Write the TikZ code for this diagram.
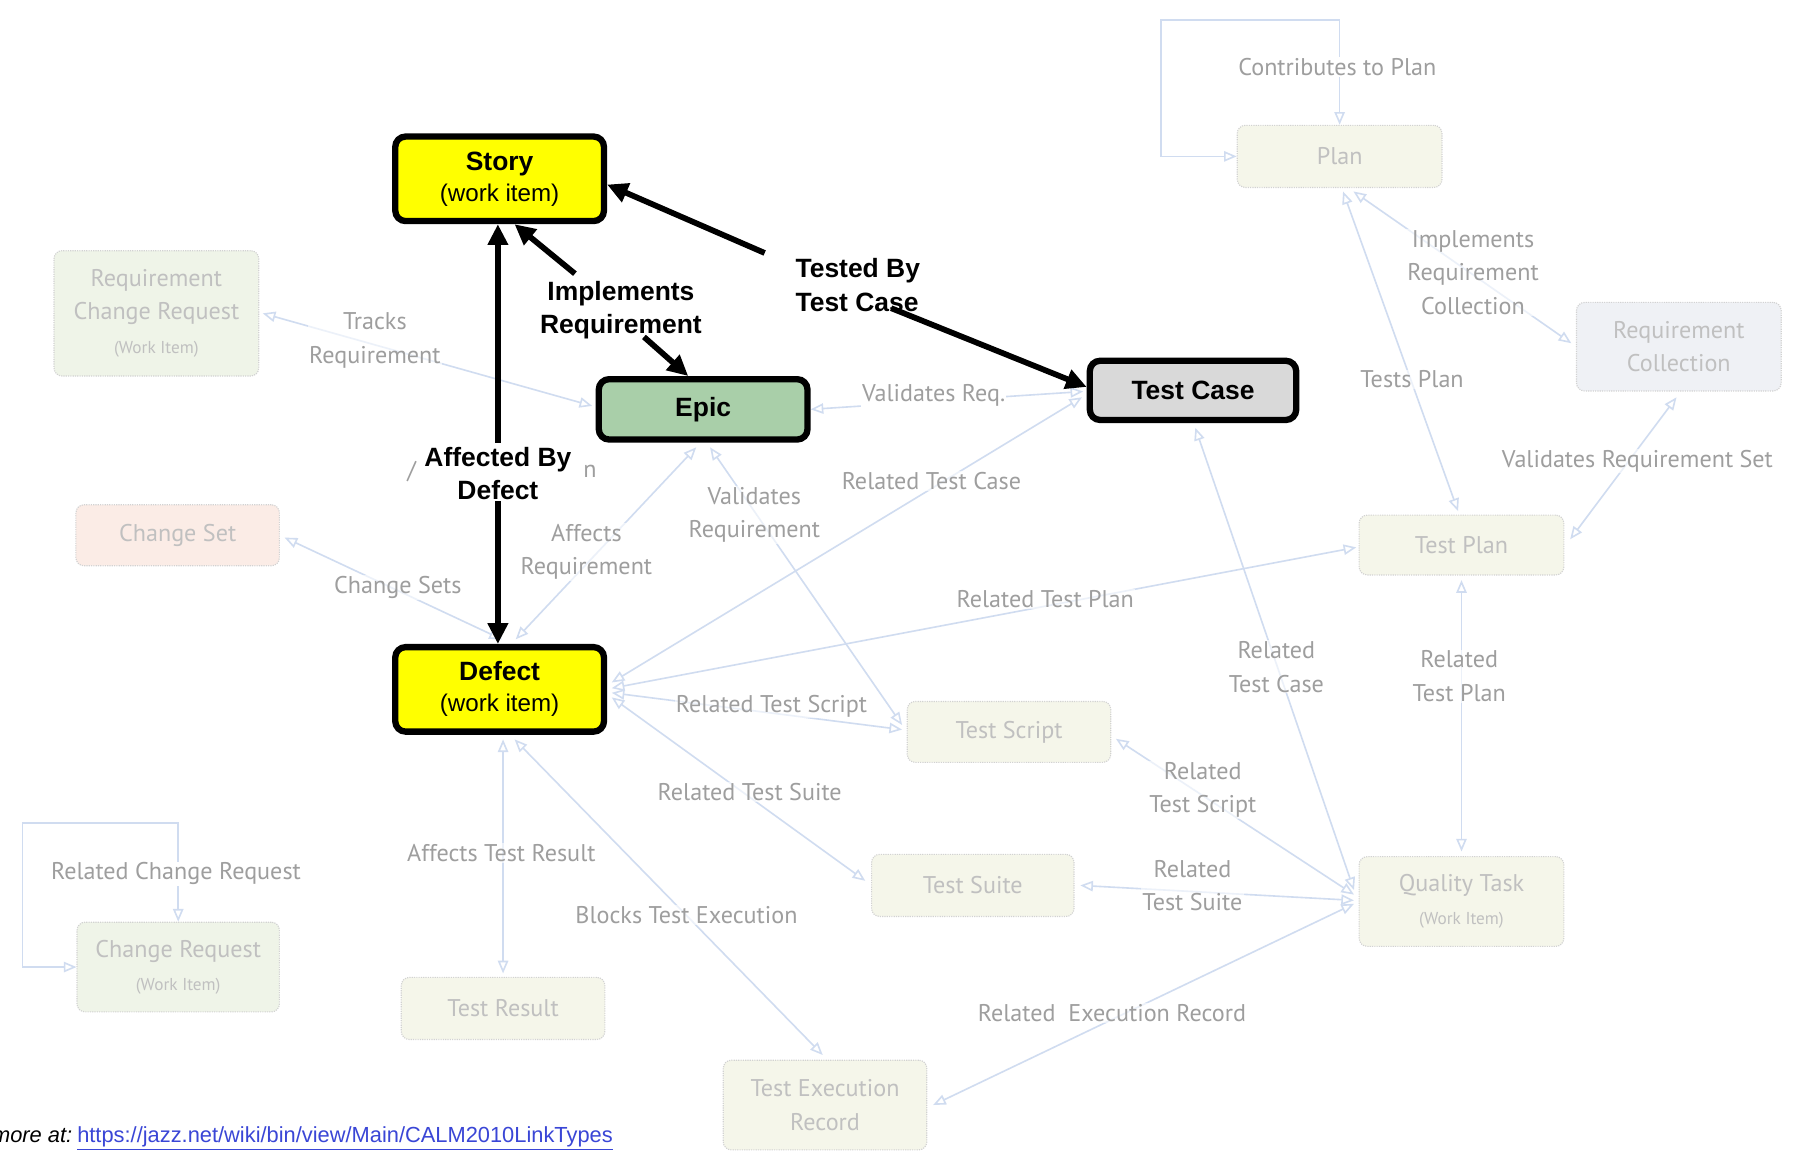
\documentclass[tikz,border=0pt]{standalone}
\usepackage{fontspec}
\setmainfont{Liberation Sans}
\newfontfamily\ghostfam{PT Sans}
\usetikzlibrary{arrows.meta,calc}
\definecolor{ghostline}{HTML}{D0DCF0}
\definecolor{ghostborder}{HTML}{D2D2D2}
\definecolor{ghosttext}{HTML}{C0C0C0}
\definecolor{labeltext}{HTML}{9E9E9E}
\definecolor{fillyg}{HTML}{F5F6EA}
\definecolor{fillg}{HTML}{EFF4E8}
\definecolor{fillpink}{HTML}{FBECE6}
\definecolor{fillblue}{HTML}{EFF1F5}
\definecolor{storyyellow}{HTML}{FFFF00}
\definecolor{epicgreen}{HTML}{A9CFA9}
\definecolor{casegrey}{HTML}{D9D9D9}
\definecolor{urlblue}{HTML}{3A46D6}
\pgfdeclarelayer{bg}
\pgfdeclarelayer{paper}
\pgfsetlayers{paper,bg,main}
\begin{document}
\begin{tikzpicture}[x=1pt,y=-1pt,
  mainbox/.style={draw=black, line width=5.5pt, rounded corners=9pt, align=center, inner sep=0pt,
    font=\fontsize{23}{27}\selectfont\bfseries},
  ghostbox/.style={draw=ghostborder, densely dotted, line width=1pt, rounded corners=7pt, align=center,
    inner sep=0pt, text=ghosttext, font=\ghostfam\fontsize{21}{29}\selectfont},
  glabel/.style={text=labeltext, align=center, inner sep=1pt, fill=white, fill opacity=0.6, text opacity=1,
    font=\ghostfam\fontsize{21}{29}\selectfont},
  blabel/.style={align=center, inner sep=1pt, fill=white, font=\fontsize{23}{29}\selectfont\bfseries},
  lnk/.style={draw=ghostline, line width=1.4pt, <->, >={Triangle[open,length=11pt,width=9pt]}},
  thickarrow/.style={line width=5pt, -{Triangle[length=18pt,width=17pt]}},
]
\begin{pgfonlayer}{paper}
\fill[white] (0,0) rectangle (1568,1001);
\end{pgfonlayer}
\useasboundingbox (0,0) rectangle (1568,1001);

% ---------- faint nodes ----------
\node[ghostbox, fill=fillg, minimum width=178pt, minimum height=109pt] (rcr) at (136,272.5)
  {Requirement\\Change Request\\{\fontsize{15}{29}\selectfont (Work Item)}};
\node[ghostbox, fill=fillpink, minimum width=177pt, minimum height=53pt] (changeset) at (154.5,465.5) {Change Set};
\node[ghostbox, fill=fillg, minimum width=176pt, minimum height=78pt] (cr) at (155,841)
  {Change Request\\{\fontsize{15}{29}\selectfont (Work Item)}};
\node[ghostbox, fill=fillyg, minimum width=177pt, minimum height=54pt] (testresult) at (437.5,877) {Test Result};
\node[ghostbox, fill=fillyg, minimum width=177pt, minimum height=78pt] (ter) at (717.5,961) {Test Execution\\Record};
\node[ghostbox, fill=fillyg, minimum width=177pt, minimum height=53pt] (testscript) at (877.5,636.5) {Test Script};
\node[ghostbox, fill=fillyg, minimum width=176pt, minimum height=54pt] (testsuite) at (846,770) {Test Suite};
\node[ghostbox, fill=fillyg, minimum width=178pt, minimum height=78pt] (qt) at (1271,784)
  {Quality Task\\{\fontsize{15}{29}\selectfont (Work Item)}};
\node[ghostbox, fill=fillyg, minimum width=178pt, minimum height=52pt] (testplan) at (1271,474) {Test Plan};
\node[ghostbox, fill=fillyg, minimum width=178pt, minimum height=54pt] (plan) at (1165,136) {Plan};
\node[ghostbox, fill=fillblue, minimum width=178pt, minimum height=77pt] (rc) at (1460,301.5) {Requirement\\Collection};

% ---------- main nodes ----------
\node[mainbox, fill=storyyellow, minimum width=181.5pt, minimum height=73.5pt] (story) at (434.5,155.5)
  {Story\\{\mdseries\fontsize{21}{27}\selectfont (work item)}};
\node[mainbox, fill=epicgreen, minimum width=181.5pt, minimum height=52.5pt] (epic) at (611.5,356) {Epic};
\node[mainbox, fill=casegrey, minimum width=179.5pt, minimum height=51.5pt] (testcase) at (1037.5,339.5) {Test Case};
\node[mainbox, fill=storyyellow, minimum width=181.5pt, minimum height=73.5pt] (defect) at (434.5,599.5)
  {Defect\\{\mdseries\fontsize{21}{27}\selectfont (work item)}};

% ---------- faint connectors ----------
\begin{pgfonlayer}{bg}
\draw[lnk] (plan.west) -- ++(-66,0) |- ($(plan.north)+(0,-91)$) -- (plan.north);
\draw[lnk] (cr.west) -- ++(-47,0) |- ($(cr.north)+(0,-86)$) -- (cr.north);
\draw[lnk] ($(epic.west)+(-3,-3)$) -- ($(rcr.east)+(3,0)$);
\draw[lnk] ($(defect.north)+(2,-4)$) -- ($(changeset.east)+(4,2)$);
\draw[lnk] ($(defect.north)+(14,-4)$) -- ($(epic.south)+(-6,4)$);
\draw[lnk] ($(epic.south)+(6,4)$) -- ($(testscript.west)+(-4,-6)$);
\draw[lnk] (epic.east) -- ($(testcase.west)+(-3,1)$);
\draw[lnk] ($(defect.east)+(4,-6)$) -- ($(testcase.west)+(-4,6)$);
\draw[lnk] ($(defect.east)+(4,-1)$) -- ($(testplan.west)+(-2,2)$);
\draw[lnk] ($(defect.east)+(4,3)$) -- ($(testscript.west)+(-4,-2)$);
\draw[lnk] ($(defect.east)+(4,7)$) -- ($(testsuite.west)+(-5,-4)$);
\draw[lnk] ($(defect.south)+(3,4)$) -- ($(testresult.north)+(0,-3)$);
\draw[lnk] ($(defect.south)+(13,4)$) -- ($(ter.north)+(-2,-4)$);
\draw[lnk] ($(qt.west)+(-4,2)$) -- ($(ter.east)+(5,0)$);
\draw[lnk] ($(qt.west)+(-4,-1)$) -- ($(testsuite.east)+(5,0)$);
\draw[lnk] ($(qt.west)+(-4,-6)$) -- ($(testscript.east)+(4,6)$);
\draw[lnk] ($(qt.west)+(-4,-10)$) -- ($(testcase.south)+(2,4)$);
\draw[lnk] ($(qt.north)+(0,-4)$) -- ($(testplan.south)+(0,4)$);
\draw[lnk] ($(testplan.north)+(-3,-3)$) -- ($(plan.south)+(3,3)$);
\draw[lnk] ($(plan.south)+(12,3)$) -- ($(rc.west)+(-4,-3)$);
\draw[lnk] ($(testplan.east)+(5,-5)$) -- ($(rc.south)+(-2,5)$);
\end{pgfonlayer}

% ---------- faint labels ----------
\node[glabel, fill opacity=1] (lcontrib) at (1163,58) {Contributes to Plan};
\node[glabel, fill opacity=1] (lrelcr) at (153,760) {Related Change Request};
\node[glabel] (ltracks) at (326,296) {Tracks\\Requirement};
\node[glabel] (lchsets) at (346,511) {Change Sets};
\node[glabel] (laffreq) at (510,480) {Affects\\Requirement};
\node[glabel] (lvalreq) at (656,448) {Validates\\Requirement};
\node[glabel, fill opacity=1] (lvalreqs) at (812,344) {Validates Req.};
\node[glabel] (lreltc) at (810,418) {Related Test Case};
\node[glabel] (lreltp) at (909,521) {Related Test Plan};
\node[glabel] (lrelts) at (671,614) {Related Test Script};
\node[glabel] (lreltsu) at (652,689) {Related Test Suite};
\node[glabel] (laffres) at (436,742) {Affects Test Result};
\node[glabel] (lblocks) at (597,796) {Blocks Test Execution};
\node[glabel] (lrelexec) at (967,881) {Related\ \ Execution Record};
\node[glabel] (lrtsu2) at (1037,770) {Related\\Test Suite};
\node[glabel] (lrts2) at (1046,687) {Related\\Test Script};
\node[glabel] (lrtc2) at (1110,580) {Related\\Test Case};
\node[glabel] (lrtp2) at (1269,588) {Related\\Test Plan};
\node[glabel] (ltestsplan) at (1228,330) {Tests Plan};
\node[glabel] (limplrc) at (1281,237) {Implements\\Requirement\\Collection};
\node[glabel] (lvalset) at (1424,401) {Validates Requirement Set};
\node[glabel, fill=none] (frag1) at (358,410) {/};
\node[glabel, fill=none] (frag2) at (513,410) {n};

% ---------- bold labels and arrows ----------
\node[blabel] (laffected) at (433,412) {Affected By\\Defect};
\node[blabel] (limpl) at (540,270) {Implements\\Requirement};
\node[blabel, align=left] (ltested) at (746,248) {Tested By\\Test Case};

\coordinate (tbA) at (665,220);
\coordinate (tbB) at (775,268);
\coordinate (imA) at (500,238);
\coordinate (imB) at (560,293);
\coordinate (afA) at (433,385);
\coordinate (afB) at (433,436);

\draw[thickarrow] (tbA) -- ($(story.east)+(0,5)$);
\draw[thickarrow] (tbB) -- ($(testcase.west)+(0,-3)$);
\draw[thickarrow] (imA) -- ($(story.south)+(13,0)$);
\draw[thickarrow] (imB) -- ($(epic.north)+(-13,0)$);
\draw[thickarrow] (afA) -- ($(story.south)+(-1.5,0)$);
\draw[thickarrow] (afB) -- ($(defect.north)+(-1.5,0)$);

% ---------- footer ----------
\node[anchor=base east, inner sep=0pt, font=\fontsize{19}{22}\selectfont\itshape] (more) at (63,994) {more at:};
\node[anchor=base west, inner sep=0pt, text=urlblue, font=\fontsize{19}{22}\selectfont] (url) at (67,994)
  {\underline{https://jazz.net/wiki/bin/view/Main/CALM2010LinkTypes}};
\end{tikzpicture}
\end{document}
